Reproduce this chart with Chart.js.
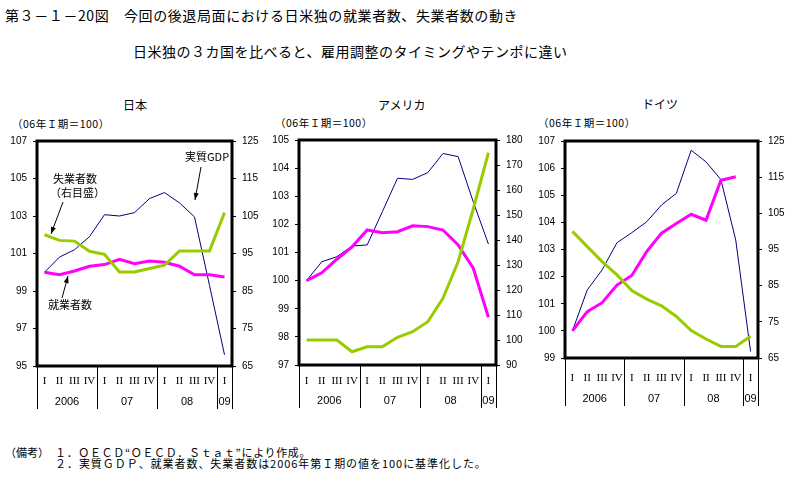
<!DOCTYPE html>
<html><head><meta charset="utf-8">
<script src="https://cdn.jsdelivr.net/npm/chart.js@4.4.1/dist/chart.umd.min.js"></script>
<style>
body{margin:0;width:792px;height:480px;background:#fff;position:relative;overflow:hidden;font-family:"Noto Sans CJK JP",sans-serif;color:#000;}
canvas{position:absolute;left:0;top:0;}
.t{position:absolute;white-space:nowrap;line-height:1;}
</style></head><body>
<div class="t" style="left:5px;top:8px;font-size:14px;letter-spacing:0.6px;">第３－１－20図　今回の後退局面における日米独の就業者数、失業者数の動き</div>
<div class="t" style="left:133px;top:44px;font-size:14px;letter-spacing:0.5px;">日米独の３カ国を比べると、雇用調整のタイミングやテンポに違い</div>
<div class="t" style="left:123px;top:99px;font-size:12px;">日本</div>
<div class="t" style="left:378px;top:99px;font-size:12px;">アメリカ</div>
<div class="t" style="left:642px;top:98px;font-size:12px;">ドイツ</div>
<div class="t" style="left:12px;top:119px;font-size:10.5px;letter-spacing:0.5px;">（06年Ｉ期＝100）</div>
<div class="t" style="left:275px;top:118px;font-size:10.5px;letter-spacing:0.5px;">（06年Ｉ期＝100）</div>
<div class="t" style="left:538px;top:118px;font-size:10.5px;letter-spacing:0.5px;">（06年Ｉ期＝100）</div>
<div class="t" style="left:5px;top:447px;font-size:11px;">（備考）</div>
<div class="t" style="left:55px;top:447px;font-size:11px;letter-spacing:0.65px;">１．ＯＥＣＤ“ＯＥＣＤ．Ｓｔａｔ”により作成。</div>
<div class="t" style="left:55px;top:458px;font-size:11px;letter-spacing:0.95px;">２．実質ＧＤＰ、就業者数、失業者数は2006年第Ｉ期の値を100に基準化した。</div>
<canvas id="jp" width="792" height="480"></canvas>
<canvas id="us" width="792" height="480"></canvas>
<canvas id="de" width="792" height="480"></canvas>
<script>
// ---- data ----
const quarters = ['I','II','III','IV','I','II','III','IV','I','II','III','IV','I'];
const years = ['2006','07','08','09'];

const jpGDP    = [100,100.81,101.2,101.9,103.07,103.0,103.18,103.93,104.25,103.7,102.95,99.3,95.6];
const jpEmp    = [100,99.87,100.07,100.32,100.41,100.69,100.46,100.6,100.53,100.32,99.87,99.87,99.75];
const jpUnemp  = [100,98.5,98.3,95.6,94.8,90.1,90.1,91.0,91.9,95.7,95.7,95.7,105.9];

const usGDP    = [100,100.67,100.85,101.23,101.27,102.45,103.64,103.6,103.84,104.52,104.41,102.8,101.3];
const usEmp    = [100,100.28,100.76,101.2,101.8,101.7,101.74,101.95,101.92,101.8,101.27,100.44,98.7];
const usUnemp  = [100,100,100,95.3,97.3,97.3,101.1,103.3,107.3,116.7,131.3,152.4,174.9];

const deGDP    = [100,101.51,102.25,103.25,103.62,104.02,104.64,105.07,106.66,106.23,105.58,103.35,99.24];
const deEmp    = [100,100.71,101.04,101.69,102.04,102.92,103.6,103.96,104.3,104.08,105.55,105.68,null];
const deUnemp  = [100,95.8,91.65,87.98,83.66,81.3,79.43,76.5,72.6,70.25,68.2,68.2,71.0];

const jpLeft = {min:95,max:107,step:2}, jpRight = {min:65,max:125,step:10};
const usLeft = {min:97,max:105,step:1}, usRight = {min:90,max:180,step:10};
const deLeft = {min:99,max:107,step:1}, deRight = {min:65,max:125,step:10};

// ---- drawing ----
const NUMFONT = '"Liberation Sans", Arial, sans-serif';
const JPFONT = '"Noto Sans CJK JP", sans-serif';

function arrow(ctx, x1, y1, x2, y2) {
  ctx.beginPath(); ctx.moveTo(x1, y1); ctx.lineTo(x2, y2); ctx.stroke();
  const ang = Math.atan2(y2 - y1, x2 - x1), L = 7, W = 2.5;
  ctx.beginPath();
  ctx.moveTo(x2, y2);
  ctx.lineTo(x2 - L*Math.cos(ang) + W*Math.sin(ang), y2 - L*Math.sin(ang) - W*Math.cos(ang));
  ctx.lineTo(x2 - L*Math.cos(ang) - W*Math.sin(ang), y2 - L*Math.sin(ang) + W*Math.cos(ang));
  ctx.closePath(); ctx.fill();
}

const framePlugin = {
  id: 'frame',
  afterDraw(chart, args, o) {
    const {ctx, chartArea: a, scales: {x}} = chart;
    ctx.save();
    ctx.strokeStyle = '#000'; ctx.fillStyle = '#000';
    ctx.lineWidth = 3;
    ctx.strokeRect(a.left, a.top, a.right - a.left, a.bottom - a.top);
    ctx.lineWidth = 1;
    const half = (x.getPixelForValue(1) - x.getPixelForValue(0)) / 2;
    const starts = [];
    quarters.forEach((q, i) => { if (q === 'I') starts.push(i); });
    const bounds = starts.map(i => x.getPixelForValue(i) - half);
    bounds.push(a.right);
    bounds.forEach(bx => {
      const px = Math.round(bx) + 0.5;
      ctx.beginPath(); ctx.moveTo(px, a.bottom); ctx.lineTo(px, a.bottom + o.sepLen); ctx.stroke();
    });
    ctx.font = '11px ' + NUMFONT;
    ctx.textAlign = 'center'; ctx.textBaseline = 'middle';
    years.forEach((yr, k) => {
      ctx.fillText(yr, (bounds[k] + bounds[k+1]) / 2, a.bottom + o.yearOff);
    });
    if (o.notes) {
      ctx.font = '11px ' + JPFONT;
      ctx.textAlign = 'left';
      o.notes.forEach(n => {
        if (n.text) ctx.fillText(n.text, n.x, n.y);
        if (n.arrow) arrow(ctx, ...n.arrow);
      });
    }
    ctx.restore();
  }
};

function makeChart(id, area, gdp, emp, unemp, left, right, o) {
  const yW = 32, xH = 40;
  const cfg = {
    type: 'line',
    data: {
      labels: quarters,
      datasets: [
        {label:'実質GDP', data: gdp, yAxisID:'y', borderColor:'#000080', borderWidth:1, pointRadius:0, tension:0, order:3},
        {label:'就業者数', data: emp, yAxisID:'y', borderColor:'#FF00FF', borderWidth:3, pointRadius:0, tension:0, order:2},
        {label:'失業者数', data: unemp, yAxisID:'y1', borderColor:'#99CC00', borderWidth:3, pointRadius:0, tension:0, order:1}
      ]
    },
    options: {
      responsive:false, animation:false, devicePixelRatio:1,
      layout: {padding: {left: area.l - yW, right: 792 - area.r - yW, top: area.t, bottom: 480 - area.b - xH}},
      plugins: {legend:{display:false}, tooltip:{enabled:false}, frame: o},
      scales: {
        x: {
          offset:true,
          grid:{display:false, drawTicks:false}, border:{display:false},
          ticks:{font:{family:'"Liberation Serif", serif', size:11}, color:'#000', padding:o.tickPad, maxRotation:0, autoSkip:false},
          afterFit: s => { s.height = xH; }
        },
        y: {
          position:'left', min:left.min, max:left.max,
          grid:{drawOnChartArea:false, drawTicks:true, tickLength:4, color:'#000'},
          border:{display:false},
          ticks:{stepSize:left.step, font:{family:NUMFONT, size:10}, color:'#000', padding:6},
          afterFit: s => { s.width = yW; }
        },
        y1: {
          position:'right', min:right.min, max:right.max,
          grid:{drawOnChartArea:false, drawTicks:true, tickLength:4, color:'#000'},
          border:{display:false},
          ticks:{stepSize:right.step, font:{family:NUMFONT, size:10}, color:'#000', padding:6},
          afterFit: s => { s.width = yW; }
        }
      }
    },
    plugins: [framePlugin]
  };
  return new Chart(document.getElementById(id), cfg);
}

makeChart('jp', {l:37, r:232, t:141, b:366}, jpGDP, jpEmp, jpUnemp, jpLeft, jpRight, {
  sepLen:43, yearOff:36, tickPad:9,
  notes: [
    {text:'実質GDP', x:185, y:157},
    {arrow:[201,167,195,200]},
    {text:'失業者数', x:53, y:179},
    {text:'（右目盛）', x:50, y:193},
    {arrow:[63,202,51,234]},
    {text:'就業者数', x:48, y:305},
    {arrow:[62,298,68,276]}
  ]
});
makeChart('us', {l:299, r:496, t:140, b:365}, usGDP, usEmp, usUnemp, usLeft, usRight, {
  sepLen:43, yearOff:36, tickPad:10
});
makeChart('de', {l:565, r:758, t:141, b:358}, deGDP, deEmp, deUnemp, deLeft, deRight, {
  sepLen:48, yearOff:41, tickPad:14
});
</script>
</body></html>
